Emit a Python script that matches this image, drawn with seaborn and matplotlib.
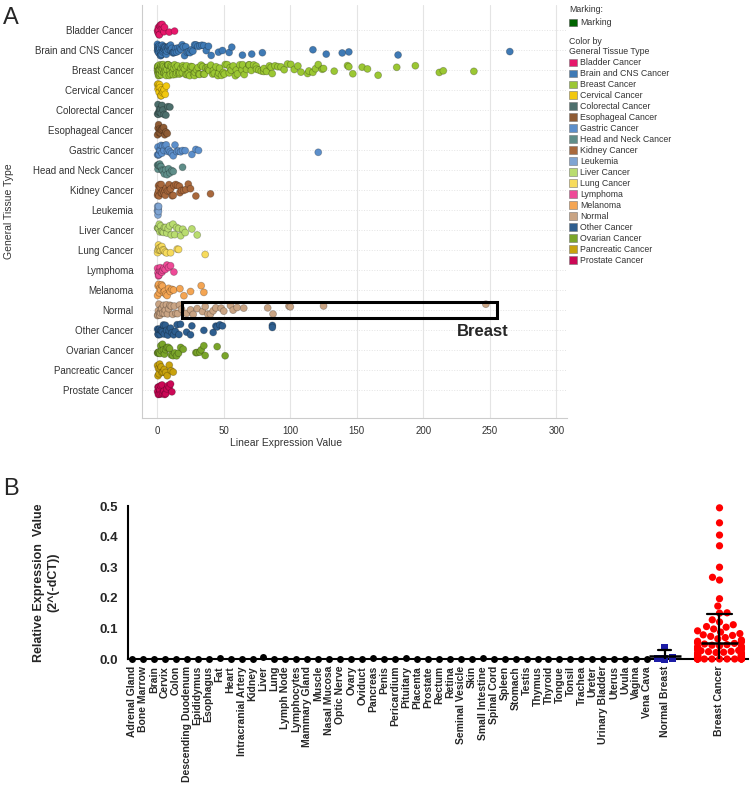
import matplotlib
matplotlib.use("Agg")

import matplotlib.pyplot as plt
import numpy as np
import pandas as pd
import seaborn as sns
from matplotlib.colors import to_rgb
from matplotlib.markers import MarkerStyle
from matplotlib.patches import Patch, Rectangle

# ---------------- panel A data (linear expression values) ----------------
TISSUE_TYPES = [
    "Bladder Cancer", "Brain and CNS Cancer", "Breast Cancer", "Cervical Cancer",
    "Colorectal Cancer", "Esophageal Cancer", "Gastric Cancer", "Head and Neck Cancer",
    "Kidney Cancer", "Leukemia", "Liver Cancer", "Lung Cancer", "Lymphoma",
    "Melanoma", "Normal", "Other Cancer", "Ovarian Cancer", "Pancreatic Cancer",
    "Prostate Cancer",
]
TYPE_COLORS = [
    "#E6176B", "#3F7AB5", "#9BC733", "#F2C80F", "#4D6F6C", "#8E5B34", "#5C8FCB",
    "#5F8E89", "#A8683C", "#7FA4D2", "#B9DC6F", "#F7DB5C", "#EE4A97", "#F4A553",
    "#C9A484", "#2E5E8F", "#7AA52A", "#C8A20E", "#CB0856",
]

bladder = [0.2, 0.5, 0.8, 1.0, 1.3, 1.6, 2.0, 2.4, 2.8, 3.2, 3.7, 4.3, 5.0, 5.5, 9.0, 13.0]
brain_cns = [0.1, 0.2, 0.3, 0.5, 0.7, 0.8, 1.0, 1.2, 1.4, 1.5, 1.8, 2.0, 2.1, 2.3, 2.6,
             2.9, 3.0, 3.3, 3.5, 3.7, 4.0, 4.4, 4.6, 4.8, 5.2, 5.4, 5.6, 6.0, 6.5, 6.8,
             7.0, 7.5, 8.0, 8.3, 8.6, 9.2, 9.8, 10.0, 10.4, 11.0, 11.7, 12.0, 12.4, 13.1,
             13.8, 14.5, 15.3, 16.1, 16.9, 17.8, 18.7, 19.6, 20.5, 21.5, 22.5, 23.5, 24.6,
             25.7, 26.8, 28.0, 29.2, 30.5, 32.0, 33.5, 35.0, 36.8, 38.5, 40.5,
             46, 49, 54, 56, 64, 71, 79, 117, 127, 139, 144, 181, 265]
breast_cancer = [0.1, 0.2, 0.3, 0.5, 0.6, 0.7, 0.9, 1.0, 1.1, 1.4, 1.5, 1.7, 2.0, 2.2, 2.3,
                 2.6, 2.9, 3.0, 3.2, 3.6, 3.9, 4.0, 4.4, 4.8, 5.0, 5.2, 5.7, 6.2, 6.4, 6.7,
                 7.2, 7.8, 8.0, 8.4, 9.0, 9.6, 9.9, 10.2, 10.9, 11.6, 12.0, 12.3, 13.0,
                 13.8, 14.2, 14.6, 15.4, 16.2, 16.6, 17.0, 17.9, 18.8, 19.2, 19.7, 20.6,
                 21.5, 22.0, 22.4, 23.4, 24.4, 25.0, 25.4, 26.4, 27.4, 28.0, 28.5, 29.6,
                 30.7, 31.3, 31.8, 33.0, 34.2, 34.8, 35.4, 36.6, 37.8, 38.4, 39.0, 40.3,
                 41.6, 42.2, 42.9, 44.2, 45.5, 46.2, 46.9, 48.3, 49.7, 50.4, 51.1, 52.6,
                 54.1, 54.8, 55.6, 57.1, 58.7, 59.4, 60.3, 62.0, 63.7, 64.2, 65.4, 67.1,
                 68.9, 69.2, 70.7, 72.5, 74.4, 74.6, 76.3, 78.2, 80.0, 80.2, 82.2, 84.3,
                 85.6, 86.4, 88.5, 90.7, 93.0, 95.4, 97.9, 100.4, 103.0, 105.7,
                 108, 113, 114, 117, 119, 121, 124, 125, 133, 143, 144, 147, 154, 158,
                 166, 180, 194, 212, 215, 238]
cervical = [0.2, 0.5, 0.8, 1.1, 1.4, 1.8, 2.2, 2.6, 3.0, 3.5, 4.0, 4.6, 5.2, 6.0, 6.8]
colorectal = [0.2, 0.5, 0.9, 1.2, 1.6, 2.0, 2.5, 3.0, 3.6, 4.3, 5.2, 6.5, 8.0, 9.5]
esophageal = [0.2, 0.6, 1.0, 1.4, 1.8, 2.3, 2.8, 3.4, 4.0, 4.8, 5.6, 6.5, 7.5]
gastric = [0.2, 0.5, 0.9, 1.3, 1.8, 2.3, 2.9, 3.5, 4.2, 5.0, 5.8, 6.7, 7.6, 8.6, 9.7,
           10.8, 12.0, 13.3, 14.6, 16.0, 17.5, 19.0, 21.0, 26, 29, 31, 121]
head_neck = [0.2, 0.5, 0.9, 1.3, 1.8, 2.3, 2.9, 3.6, 4.4, 5.3, 6.3, 7.4, 8.5, 9.5,
             11.0, 12.0, 19.0]
kidney = [0.2, 0.5, 0.9, 1.0, 1.3, 1.8, 2.3, 2.9, 3.0, 3.5, 4.2, 5.0, 5.8, 6.0, 6.7,
          7.7, 8.8, 9.0, 10.0, 11.2, 12.0, 12.5, 13.8, 15.2, 16.7, 17.0, 18.2, 19.8,
          21.5, 23.3, 25.0, 29, 40]
leukemia = [0.1, 0.3, 0.5, 0.7, 0.9, 1.0]
liver = [0.2, 0.6, 1.0, 1.5, 2.0, 2.6, 3.2, 3.9, 4.6, 5.4, 6.3, 7.2, 8.2, 9.3, 10.5,
         11.8, 13.1, 14.5, 16.0, 17.6, 19.2, 21.0, 26, 30]
lung = [0.2, 0.5, 0.9, 1.3, 1.8, 2.3, 2.9, 3.5, 4.2, 5.0, 6.0, 7.0, 10, 15, 16, 36]
lymphoma = [0.2, 0.5, 0.9, 1.3, 1.8, 2.3, 2.9, 3.5, 4.2, 5.0, 6.0, 7.2, 8.5, 10.0, 12.5]
melanoma = [0.2, 0.6, 1.0, 1.5, 2.0, 2.6, 3.2, 3.9, 4.7, 5.5, 6.4, 7.4, 8.5, 9.7, 11.0,
            12.3, 17, 20, 25, 33, 35]
normal = [0.2, 0.5, 0.8, 1.2, 1.6, 2.0, 2.5, 3.0, 3.5, 4.1, 4.7, 5.4, 6.1, 6.9, 7.7,
          8.6, 9.5, 10.5, 11.6, 12.8, 14.0, 15.3, 16.7, 18.2, 22, 25, 27, 30, 34, 36,
          38, 40, 42, 44, 48, 50, 55, 57, 60, 65, 83, 87, 99, 100, 125, 247]
other_cancer = [0.2, 0.5, 0.9, 1.3, 1.7, 2.2, 2.7, 3.3, 3.9, 4.6, 5.3, 6.1, 7.0, 7.9,
                8.9, 10.0, 11.1, 12.3, 13.6, 14.9, 16.3, 17.5, 22, 25, 26, 35, 42, 44,
                45, 47, 49, 86.5, 86.5]
ovarian = [0.2, 0.6, 1.0, 1.5, 2.0, 2.6, 3.2, 3.9, 4.6, 5.4, 6.3, 7.2, 8.2, 9.3, 10.5,
           11.8, 13.1, 14.5, 16.0, 17.6, 19.5, 29, 30, 32, 33, 35, 36, 45, 51]
pancreatic = [0.2, 0.5, 0.9, 1.3, 1.8, 2.3, 2.9, 3.6, 4.4, 5.3, 6.3, 7.5, 9.0, 10.5, 12.0]
prostate = [0.2, 0.5, 0.8, 1.2, 1.6, 2.0, 2.5, 3.0, 3.6, 4.2, 4.9, 5.6, 6.4, 7.2, 8.1,
            9.0, 10.0, 11.0]

A_VALUES = [bladder, brain_cns, breast_cancer, cervical, colorectal, esophageal, gastric,
            head_neck, kidney, leukemia, liver, lung, lymphoma, melanoma, normal,
            other_cancer, ovarian, pancreatic, prostate]

# ---------------- panel B data (relative expression 2^(-dCT)) ----------------
NORMAL_TISSUES = [
    "Adrenal Gland", "Bone Marrow", "Brain", "Cervix", "Colon", "Descending Duodenum",
    "Epididymus", "Esophagus", "Fat", "Heart", "Intracranial Artery", "Kidney", "Liver",
    "Lung", "Lymph Node", "Lymphocytes", "Mammary Gland", "Muscle", "Nasal Mucosa",
    "Optic Nerve", "Ovary", "Oviduct", "Pancreas", "Penis", "Pericardium", "Pituitary",
    "Placenta", "Prostate", "Rectum", "Retina", "Seminal Vesicle", "Skin",
    "Small Intestine", "Spinal Cord", "Spleen", "Stomach", "Testis", "Thymus", "Thyroid",
    "Tongue", "Tonsil", "Trachea", "Ureter", "Urinary Bladder", "Uterus", "Uvula",
    "Vagina", "Vena Cava",
]
normal_tissue_vals = [0, 0, 0, 0, 0, 0, 0, 0, 0.003, 0, 0, 0, 0.005, 0, 0, 0, 0, 0, 0, 0,
                      0, 0, 0.002, 0, 0, 0.004, 0, 0, 0, 0, 0, 0, 0.004, 0, 0, 0, 0, 0,
                      0, 0, 0, 0, 0, 0, 0, 0, 0, 0]
GROUPS = ["Normal Breast", "Breast Cancer"]
GROUP_COLORS = ["#1C1CA6", "#FF0000"]
normal_breast_vals = [0.038, 0.003, 0.001, 0.0]
breast_cancer_vals = [0.494, 0.445, 0.405, 0.370, 0.300, 0.267, 0.258, 0.197, 0.173,
                      0.151, 0.150, 0.128, 0.121, 0.112, 0.106, 0.104, 0.098, 0.092,
                      0.088, 0.083, 0.079, 0.077, 0.074, 0.070, 0.066, 0.062, 0.058,
                      0.056, 0.053, 0.051, 0.049, 0.047, 0.045, 0.043, 0.041, 0.040,
                      0.038, 0.036, 0.035, 0.033, 0.031, 0.030, 0.028, 0.027, 0.025,
                      0.024, 0.022, 0.021, 0.020, 0.019, 0.018, 0.017, 0.016, 0.015,
                      0.014, 0.013, 0.012, 0.011, 0.010, 0.010, 0.009, 0.009, 0.008,
                      0.008, 0.007, 0.007, 0.006, 0.006, 0.005, 0.005, 0.005, 0.004,
                      0.004, 0.004, 0.004, 0.003, 0.003, 0.003, 0.003, 0.003, 0.003,
                      0.002, 0.002, 0.002, 0.002, 0.002, 0.002, 0.002, 0.002, 0.001,
                      0.001, 0.001, 0.001, 0.001, 0.001, 0.001, 0.001, 0.001, 0.001,
                      0, 0, 0, 0, 0, 0, 0, 0, 0, 0]

sns.set_style("white")
plt.rcParams["font.family"] = ["Liberation Sans", "DejaVu Sans"]

W, H = 750, 797
fig = plt.figure(figsize=(W / 100, H / 100), dpi=100)

# ======================= panel A =======================
df_a = pd.DataFrame({
    "tissue": np.repeat(TISSUE_TYPES, [len(v) for v in A_VALUES]),
    "value": np.concatenate(A_VALUES),
})
palette_a = dict(zip(TISSUE_TYPES, TYPE_COLORS))

axA = fig.add_axes([142 / W, 1 - 418 / H, 425 / W, 413 / H])
np.random.seed(3)
sns.stripplot(data=df_a, x="value", y="tissue", hue="tissue", order=TISSUE_TYPES,
              palette=palette_a, orient="y", jitter=0.3, size=5, linewidth=0.6,
              edgecolor="#00000040", legend=False, ax=axA)
axA.set_xlim(-11.5, 308)
axA.set_ylim(19.4, -1.25)
axA.set_xticks([0, 50, 100, 150, 200, 250, 300])
axA.grid(axis="x", color="#e4e4e4", linewidth=0.8)
axA.grid(axis="y", color="#e4e4e4", linewidth=0.7, linestyle=":")
axA.set_axisbelow(True)
for side in ["top", "right"]:
    axA.spines[side].set_visible(False)
for side in ["left", "bottom"]:
    axA.spines[side].set_color("#cccccc")
    axA.spines[side].set_linewidth(0.8)
axA.tick_params(axis="both", labelsize=7, labelcolor="#333333", color="#dddddd",
                length=4, width=0.6, pad=2)
axA.set_xlabel("Linear Expression Value", fontsize=7.5, color="#333333")
axA.xaxis.set_label_coords(0.34, -0.048)
axA.set_ylabel("General Tissue Type", fontsize=7.5, color="#333333")
axA.yaxis.set_label_coords(-0.30, 0.5)

# highlight box around the normal breast samples
normal_idx = TISSUE_TYPES.index("Normal")
axA.add_patch(Rectangle((18.6, normal_idx - 0.41), 255.5 - 18.6, 0.82,
                        fill=False, edgecolor="black", linewidth=2.2, zorder=5))
axA.text(244.6, normal_idx + 1.05, "Breast", fontsize=12, fontweight="bold",
         ha="center", va="center")

# legends
leg_kw = dict(loc="upper left", frameon=False, fontsize=6.3, title_fontsize=6.3,
              alignment="left", handlelength=0.95, handleheight=0.95, handletextpad=0.35,
              borderpad=0, borderaxespad=0)
mark_handles = [Patch(facecolor="#006400", edgecolor="#555555", linewidth=0.4)]
leg1 = fig.legend(mark_handles, ["Marking"], title="Marking:",
                  bbox_to_anchor=(569 / W, 1 - 5 / H), **leg_kw)
type_handles = [Patch(facecolor=c, edgecolor="#777777", linewidth=0.4) for c in TYPE_COLORS]
leg2 = fig.legend(type_handles, TISSUE_TYPES, title="Color by\nGeneral Tissue Type",
                  bbox_to_anchor=(569 / W, 1 - 37 / H), labelspacing=0.225, **leg_kw)
for leg in (leg1, leg2):
    for t in leg.get_texts():
        t.set_color("#333333")
    leg.get_title().set_color("#333333")

fig.text(3 / W, 1 - 18 / H, "A", fontsize=17, va="center", ha="left")
fig.text(3 / W, 1 - 489 / H, "B", fontsize=17, va="center", ha="left")

# ======================= panel B =======================
nb_pos = len(NORMAL_TISSUES) + 0.6
bc_pos = nb_pos + 5
df_t = pd.DataFrame({"pos": np.arange(len(NORMAL_TISSUES)), "value": normal_tissue_vals})
df_g = pd.DataFrame({
    "group": ["Normal Breast"] * len(normal_breast_vals) + ["Breast Cancer"] * len(breast_cancer_vals),
    "pos": [nb_pos] * len(normal_breast_vals) + [bc_pos] * len(breast_cancer_vals),
    "value": normal_breast_vals + breast_cancer_vals,
})

axB = fig.add_axes([128 / W, 1 - 659 / H, 620 / W, 153 / H])
sns.stripplot(data=df_t, x="pos", y="value", native_scale=True, orient="x", jitter=False,
              color="black", size=5, linewidth=0, ax=axB)
sns.swarmplot(data=df_g, x="pos", y="value", hue="group", native_scale=True, orient="x",
              palette=dict(zip(GROUPS, GROUP_COLORS)), size=5.2, linewidth=0,
              legend=False, warn_thresh=1, ax=axB)

# GraphPad draws the normal breast replicates as squares
sq = MarkerStyle("s")
sq_path = sq.get_path().transformed(sq.get_transform())
for coll in axB.collections:
    coll.set_clip_on(False)
    fc = coll.get_facecolor()
    if len(fc) and np.allclose(fc[0][:3], to_rgb(GROUP_COLORS[0]), atol=0.02):
        coll.set_paths([sq_path])

# mean +/- SD
cap_widths = {"Normal Breast": 1.2, "Breast Cancer": 2.3}
mean_widths = {"Normal Breast": 2.9, "Breast Cancer": 3.4}
for grp in GROUPS:
    sub = df_g[df_g["group"] == grp]
    sns.pointplot(data=sub, x="pos", y="value", native_scale=True, orient="x",
                  errorbar="sd", capsize=cap_widths[grp], color="black", marker="",
                  linestyle="none", err_kws={"linewidth": 1.6, "zorder": 5}, ax=axB)
    pos = sub["pos"].iloc[0]
    axB.hlines(sub["value"].mean(), pos - mean_widths[grp] / 2, pos + mean_widths[grp] / 2,
               color="black", linewidth=1.8, zorder=6)

axB.set_xlim(-0.36, bc_pos + 2.6)
axB.set_ylim(0, 0.5)
axB.set_yticks([0.0, 0.1, 0.2, 0.3, 0.4, 0.5])
axB.set_yticklabels([f"{v:.1f}" for v in [0.0, 0.1, 0.2, 0.3, 0.4, 0.5]],
                    fontsize=9.5, fontweight="bold")
tick_pos = list(range(len(NORMAL_TISSUES))) + [nb_pos, bc_pos]
axB.set_xticks(tick_pos)
axB.set_xticklabels(NORMAL_TISSUES + GROUPS, rotation=90, fontsize=7.5, fontweight="bold")
axB.set_xlabel("")
axB.set_ylabel("Relative Expression  Value\n(2^(-dCT))", fontsize=9, fontweight="bold",
               linespacing=1.3)
axB.yaxis.set_label_coords(-0.11, 0.5)
for side in ["top", "right"]:
    axB.spines[side].set_visible(False)
for side in ["left", "bottom"]:
    axB.spines[side].set_color("black")
    axB.spines[side].set_linewidth(1.5)
axB.tick_params(axis="y", direction="out", length=5, width=1.5, color="black", pad=2)
axB.tick_params(axis="x", direction="out", length=3, width=1, color="black", pad=2)
axB.grid(False)

fig.savefig("out.png", dpi=100)
